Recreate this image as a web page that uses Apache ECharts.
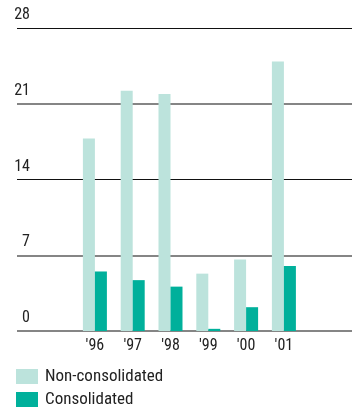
<!DOCTYPE html>
<html>
<head>
<meta charset="utf-8">
<script src="https://cdn.jsdelivr.net/npm/echarts@6/dist/echarts.min.js"></script>
<style>
html,body{margin:0;padding:0;background:#fff;}
#c{width:352px;height:411px;}
</style>
</head>
<body>
<div id="c"></div>
<script>
const categories = ["'96", "'97", "'98", "'99", "'00", "'01"];
const nonConsolidated = [17.8, 22.2, 21.9, 5.3, 6.6, 24.9];
const consolidated = [5.5, 4.7, 4.1, 0.2, 2.2, 6.0];
const yTicks = { min: 0, max: 28, interval: 7 };

const FONT = "'Roboto Condensed', 'Liberation Sans', sans-serif";
const LIGHT = '#bce3dc';
const DARK = '#00b09b';
const GRAY = '#858585';
const BLACK = '#111111';
const T = 'rgba(0,0,0,0)';

const chart = echarts.init(document.getElementById('c'), null, { renderer: 'canvas' });
chart.setOption({
  animation: false,
  backgroundColor: '#fff',
  grid: [
    { left: 17, right: 0, top: 28, bottom: 80 },
    { left: 76, width: 226.8, top: 28, bottom: 80 }
  ],
  xAxis: [
    { type: 'category', gridIndex: 0, data: categories, show: false },
    {
      type: 'category', gridIndex: 1, data: categories,
      axisLine: { show: false }, axisTick: { show: false },
      axisLabel: { color: '#222', fontFamily: FONT, fontSize: 16, margin: 7 }
    }
  ],
  yAxis: [
    {
      type: 'value', gridIndex: 0, position: 'left',
      min: yTicks.min, max: yTicks.max, interval: yTicks.interval,
      axisLine: { show: false }, axisTick: { show: false },
      axisLabel: {
        color: '#222', fontFamily: FONT, fontSize: 16, margin: -13,
        align: 'right', verticalAlign: 'bottom', padding: [0, 0, 5, 0]
      },
      splitLine: { show: true, lineStyle: { color: [GRAY, GRAY, T, GRAY, T], width: 2 } }
    },
    {
      type: 'value', gridIndex: 0, position: 'right',
      min: yTicks.min, max: yTicks.max, interval: yTicks.interval,
      axisLine: { show: false }, axisTick: { show: false }, axisLabel: { show: false },
      splitLine: { show: true, lineStyle: { color: [T, T, BLACK, T, BLACK], width: 1 } }
    },
    {
      type: 'value', gridIndex: 1,
      min: yTicks.min, max: yTicks.max, interval: yTicks.interval,
      show: false, splitLine: { show: false }
    }
  ],
  legend: {
    orient: 'vertical', left: 16, top: 368, itemWidth: 22, itemHeight: 15, itemGap: 6,
    icon: 'rect', padding: 0,
    textStyle: { color: '#222', fontFamily: FONT, fontSize: 17, lineHeight: 15, padding: [0, 0, 0, 2] },
    data: ['Non-consolidated', 'Consolidated']
  },
  series: [
    {
      name: 'Non-consolidated', type: 'bar', xAxisIndex: 1, yAxisIndex: 2,
      data: nonConsolidated, barWidth: 12, barGap: '0%',
      itemStyle: { color: LIGHT }
    },
    {
      name: 'Consolidated', type: 'bar', xAxisIndex: 1, yAxisIndex: 2,
      data: consolidated, barWidth: 12, barGap: '0%',
      itemStyle: { color: DARK }
    }
  ]
});
</script>
</body>
</html>
